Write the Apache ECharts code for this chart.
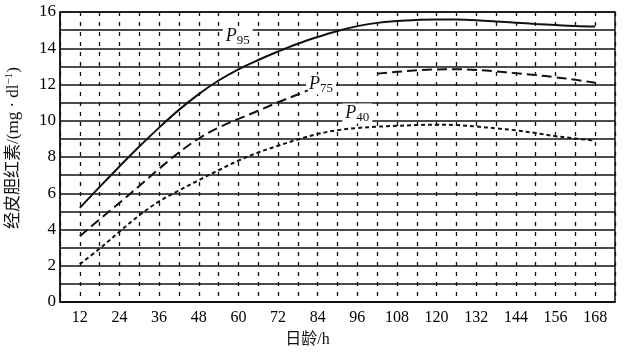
<!DOCTYPE html>
<html><head><meta charset="utf-8">
<script src="https://cdn.jsdelivr.net/npm/echarts@6/dist/echarts.min.js"></script>
<style>html,body{margin:0;padding:0;background:#fff}#c{width:626px;height:361px}</style>
</head><body><div id="c"></div>
<script>
const p95Hours = [12,18,24,30,36,42,48,54,60,66,72,78,84,90,96,102,108,114,120,126,132,138,144,150,156,162,168];
const p95Values = [5.19,6.35,7.48,8.58,9.62,10.6,11.47,12.22,12.84,13.35,13.82,14.25,14.62,14.95,15.22,15.4,15.5,15.56,15.59,15.58,15.54,15.48,15.41,15.34,15.28,15.23,15.2];
const p75Hours = [12,18,24,30,36,42,48,54,60,66,72,78,81,null,102,108,114,120,126,132,138,144,150,156,162,168];
const p75Values = [3.63,4.56,5.47,6.4,7.35,8.25,9.02,9.62,10.1,10.55,11.02,11.45,11.68,null,12.6,12.7,12.78,12.83,12.84,12.8,12.72,12.62,12.52,12.4,12.26,12.1];
const p40Hours = [12,18,24,30,36,42,48,54,60,66,72,78,84,90,96,102,108,114,120,126,132,138,144,150,156,162,168];
const p40Values = [2.09,2.95,3.88,4.78,5.55,6.15,6.72,7.27,7.8,8.25,8.62,8.97,9.27,9.48,9.6,9.67,9.72,9.76,9.78,9.76,9.68,9.58,9.47,9.32,9.15,9.02,8.9];
const xTickLabels = [12,24,36,48,60,72,84,96,108,120,132,144,156,168];
const yTickLabels = [0,2,4,6,8,10,12,14,16];
const curveLabels = [
  {name:'P', sub:'95', hour:59.8, value:14.65},
  {name:'P', sub:'75', hour:85, value:12.0},
  {name:'P', sub:'40', hour:96, value:10.4}
];

function pairs(h, v){ return h.map((x,i)=> x===null ? [null,null] : [x, v[i]]); }
const serif = '"Liberation Serif","DejaVu Serif",serif';
const lblRich = {
  p:{fontFamily:serif,fontStyle:'italic',fontSize:18,color:'#111',lineHeight:18},
  s:{fontFamily:serif,fontSize:13,color:'#111',lineHeight:18,padding:[8,0,0,0]}
};
function markFor(i){
  const c = curveLabels[i];
  return {symbol:'circle',symbolSize:2,silent:true,itemStyle:{color:'rgba(0,0,0,0)'},
    data:[{coord:[c.hour,c.value],
    label:{show:true,position:'inside',formatter:'{p|'+c.name+'}{s|'+c.sub+'}',rich:lblRich,backgroundColor:'#fff',padding:[1,3,1,3]}}]};
}
const chart = echarts.init(document.getElementById('c'));
chart.setOption({
  animation:false,
  backgroundColor:'#fff',
  grid:{left:60,right:11,top:12,bottom:59,containLabel:false,outerBoundsMode:'none',show:true,borderColor:'#111',borderWidth:1.5,backgroundColor:'transparent'},
  xAxis:{type:'value',min:6,max:174,interval:6,
    name:'日龄/h',nameLocation:'middle',nameGap:30,
    nameTextStyle:{fontFamily:serif+',"Noto Sans CJK SC"',fontSize:16,color:'#111',padding:[0,60,0,0]},
    axisLine:{show:true,lineStyle:{color:'#111',width:1.5}},
    axisTick:{show:false},
    axisLabel:{margin:8,fontFamily:serif,fontSize:16,color:'#000',
      formatter:v=> xTickLabels.indexOf(v)>=0 ? String(v) : ''},
    splitLine:{show:true,lineStyle:{color:'#111',width:1.3,type:[4,6]}}
  },
  yAxis:{type:'value',min:0,max:16,interval:1,
    name:'{a|经皮胆红素/(mg · dl}{b|−1}{a|)}',nameLocation:'middle',nameGap:36,nameRotate:90,
    nameTextStyle:{padding:[0,0,0,18],rich:{a:{fontFamily:serif+',"Noto Sans CJK SC"',fontSize:17,color:'#111'},b:{fontFamily:serif,fontSize:11,color:'#111',padding:[0,0,9,0]}}},
    axisLine:{show:true,lineStyle:{color:'#111',width:1.5}},
    axisTick:{show:false},
    axisLabel:{margin:4,fontFamily:serif,fontSize:17,color:'#000',
      formatter:v=> yTickLabels.indexOf(v)>=0 ? String(v) : ''},
    splitLine:{show:true,lineStyle:{color:'#111',width:1.5}}
  },
  series:[
    {type:'line',data:pairs(p95Hours,p95Values),smooth:0.4,showSymbol:false,connectNulls:false,
      lineStyle:{color:'#111',width:2},markPoint:markFor(0),z:5},
    {type:'line',data:pairs(p75Hours,p75Values),smooth:0.4,showSymbol:false,connectNulls:false,
      lineStyle:{color:'#111',width:2,type:[10,5]},markPoint:markFor(1),z:5},
    {type:'line',data:pairs(p40Hours,p40Values),smooth:0.4,showSymbol:false,connectNulls:false,
      lineStyle:{color:'#111',width:2,type:[4,3]},markPoint:markFor(2),z:5}
  ]
});
</script></body></html>
